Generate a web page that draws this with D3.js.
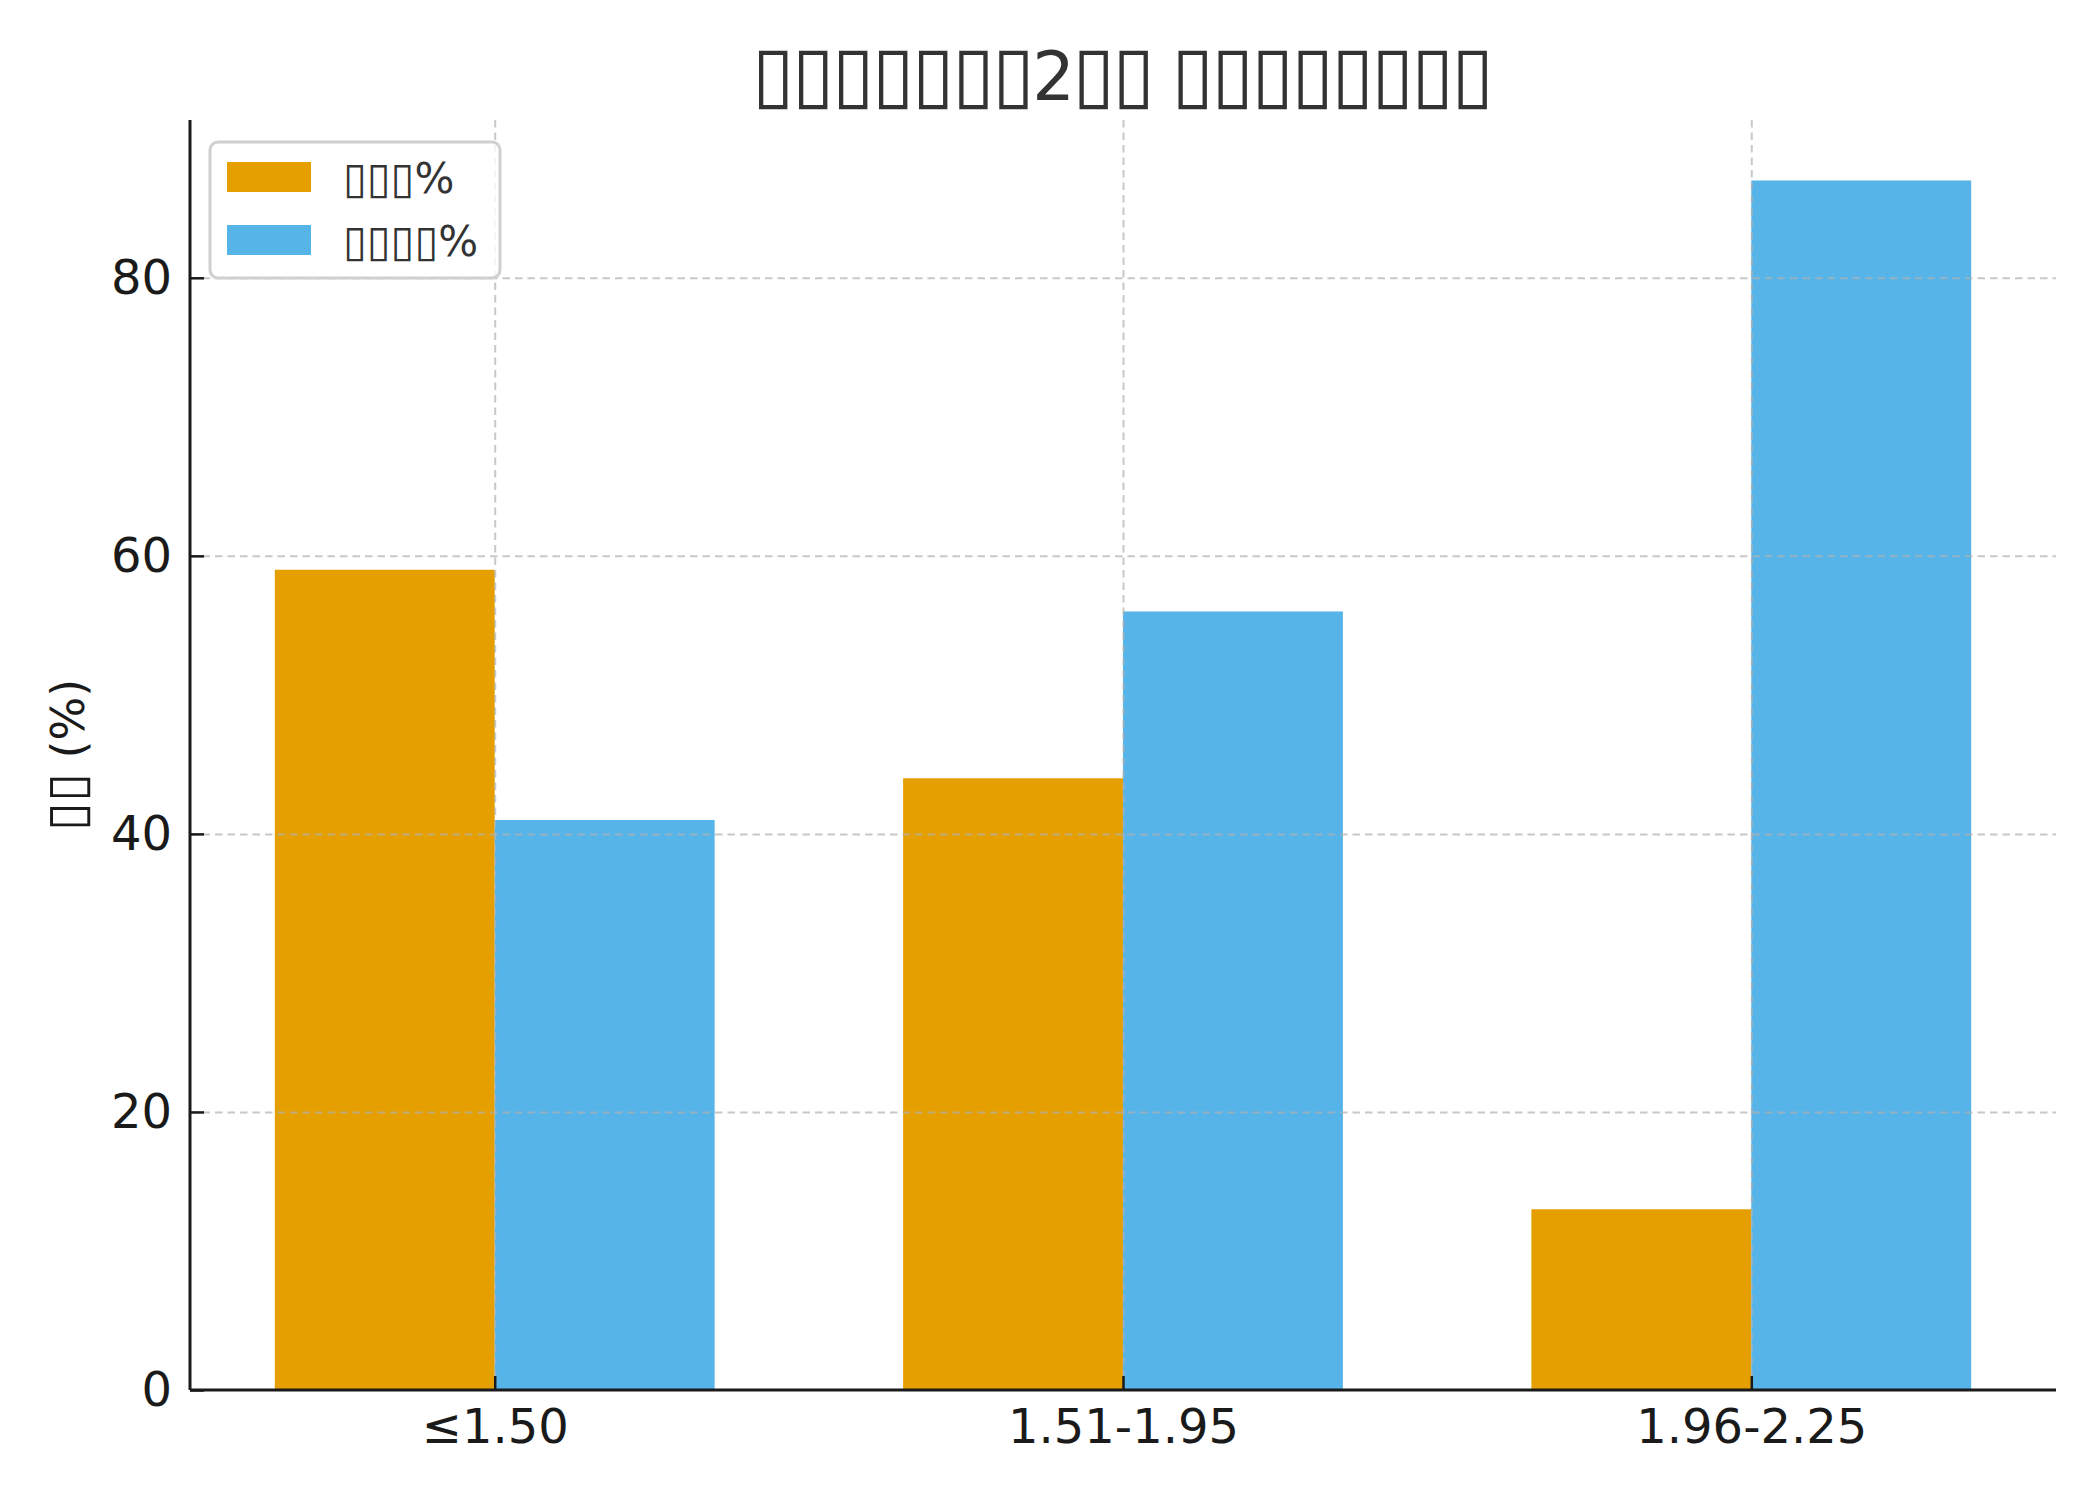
<!DOCTYPE html>
<html>
<head>
<meta charset="utf-8">
<script src="https://cdn.jsdelivr.net/npm/d3@7"></script>
<style>
  html, body { margin: 0; padding: 0; background: #fff; }
  #chart { width: 2100px; height: 1500px; }
  text { font-family: "DejaVu Sans", sans-serif; }
</style>
</head>
<body>
<div id="chart"></div>
<script>
// categories (odds ranges) and the two series
const categories = ["≤1.50", "1.51-1.95", "1.96-2.25"];
const seriesNames = ["▯▯▯%", "▯▯▯▯%"];
const seriesA = [59, 44, 13];
const seriesB = [41, 56, 87];
const yTicks = [0, 20, 40, 60, 80];
const titleText = "▯▯▯▯▯▯▯2▯▯ ▯▯▯▯▯▯▯▯";
const yLabel = "▯▯ (%)";

// write a string into a text node, boxes a bit bigger than the rest
function boxText(sel, str, size, boxScale) {
    const runs = str.match(/▯+|[^▯]+/g);
    runs.forEach(r => {
        sel.append("tspan")
            .style("font-size", (r[0] === "▯" ? size * boxScale : size) + "px")
            .text(r);
    });
}

function renderChart(containerSelector) {
    const container = d3.select(containerSelector);
    const width = 2100;
    const height = 1500;
    const margin = { top: 120, right: 44, bottom: 110, left: 190 };

    container.selectAll("*").remove();

    const svg = container.append("svg")
        .attr("width", width)
        .attr("height", height);

    const barW = 0.35;
    const keys = ["A", "B"];
    const chartData = categories.map((c, i) => ({ cat: c, i, A: seriesA[i], B: seriesB[i] }));

    // x in category units, padded like matplotlib's 5% margin
    const xMin = -barW, xMax = categories.length - 1 + barW;
    const pad = (xMax - xMin) * 0.05;
    const x = d3.scaleLinear()
        .domain([xMin - pad, xMax + pad])
        .range([margin.left, width - margin.right]);

    const yMax = d3.max(seriesB.concat(seriesA)) * 1.05;
    const y = d3.scaleLinear()
        .domain([0, yMax])
        .range([height - margin.bottom, margin.top]);

    const color = d3.scaleOrdinal()
        .domain(keys)
        .range(["#E69F00", "#56B4E9"]);

    // Bars
    const g = svg.append("g")
        .selectAll("g")
        .data(chartData)
        .join("g");

    g.selectAll("rect")
        .data(d => keys.map(k => ({ key: k, value: d[k], i: d.i })))
        .join("rect")
        .attr("x", d => d.key === "A" ? x(d.i - barW) : x(d.i))
        .attr("y", d => y(d.value))
        .attr("width", x(barW) - x(0))
        .attr("height", d => y(0) - y(d.value))
        .attr("fill", d => color(d.key));

    // Grids (drawn over the bars)
    svg.append("g")
        .attr("class", "grid")
        .attr("transform", `translate(${margin.left},0)`)
        .call(d3.axisLeft(y).tickValues(yTicks.slice(1)).tickSize(-(width - margin.left - margin.right)).tickFormat(""))
        .call(s => s.select(".domain").remove());

    svg.append("g")
        .attr("class", "grid")
        .attr("transform", `translate(0,${height - margin.bottom})`)
        .call(d3.axisBottom(x).tickValues(d3.range(categories.length)).tickSize(-(height - margin.top - margin.bottom)).tickFormat(""))
        .call(s => s.select(".domain").remove());

    svg.selectAll(".grid line")
        .attr("stroke", "#b0b0b0")
        .attr("stroke-opacity", 0.7)
        .attr("stroke-width", 2)
        .attr("stroke-dasharray", "7.5,5");

    // Axes, ticks pointing inward
    const xAxis = svg.append("g")
        .attr("class", "axis")
        .attr("transform", `translate(0,${height - margin.bottom})`)
        .call(d3.axisBottom(x).tickValues(d3.range(categories.length))
            .tickFormat(i => categories[i]).tickSize(-14).tickSizeOuter(0).tickPadding(19));

    const yAxis = svg.append("g")
        .attr("class", "axis")
        .attr("transform", `translate(${margin.left},0)`)
        .call(d3.axisLeft(y).tickValues(yTicks).tickSize(-14).tickSizeOuter(0).tickPadding(18));

    svg.selectAll(".axis .domain").attr("stroke", "#1a1a1a").attr("stroke-width", 3);
    svg.selectAll(".axis .tick line").attr("stroke", "#1a1a1a").attr("stroke-width", 2.5);
    svg.selectAll(".axis text")
        .attr("fill", "#1a1a1a")
        .style("font-size", "48px")
        .style("font-family", "DejaVu Sans");

    // Left spine reaches the top of the plot area
    yAxis.select(".domain").attr("d", `M0,${y(yMax)}V${y(0)}`);
    xAxis.select(".domain").attr("d", `M${margin.left},0H${width - margin.right}`);

    // Title
    const title = svg.append("text")
        .attr("x", (margin.left + width - margin.right) / 2)
        .attr("y", 100)
        .attr("text-anchor", "middle")
        .attr("fill", "#333333")
        .attr("textLength", 742)
        .attr("lengthAdjust", "spacing");
    boxText(title, titleText, 67, 1.15);

    // Y label
    const yl = svg.append("text")
        .attr("transform", `translate(84,${(margin.top + height - margin.bottom) / 2}) rotate(-90)`)
        .attr("text-anchor", "middle")
        .attr("fill", "#1a1a1a");
    boxText(yl, yLabel, 46, 1.15);

    // Legend
    const legend = svg.append("g").attr("transform", "translate(210,142)");
    legend.append("rect")
        .attr("width", 290).attr("height", 136).attr("rx", 8)
        .attr("fill", "#fff").attr("fill-opacity", 0.8)
        .attr("stroke", "#d0d0d0").attr("stroke-width", 3);

    keys.forEach((k, i) => {
        const lg = legend.append("g").attr("transform", `translate(17, ${20 + i * 63})`);
        lg.append("rect").attr("width", 84).attr("height", 30).attr("fill", color(k));
        const t = lg.append("text").attr("x", 116).attr("y", 31)
            .attr("fill", "#333333");
        boxText(t, seriesNames[i], 42, 1.03);
    });
}

renderChart("#chart");
</script>
</body>
</html>
